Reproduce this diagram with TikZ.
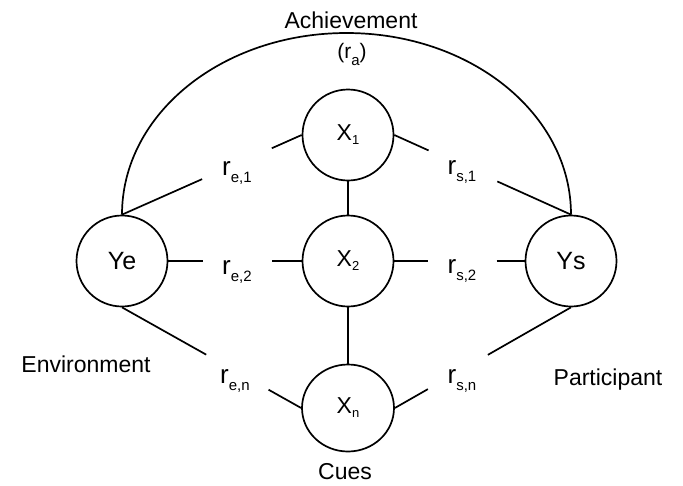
\documentclass[tikz,border=0pt]{standalone}
\usepackage{fontspec}
\setmainfont{Liberation Sans}
\usetikzlibrary{calc,shapes.geometric}
\newcommand{\mysubr}[1]{r\raisebox{-7pt}{\fontsize{15}{16}\selectfont #1}}
\newcommand{\mysubx}[1]{X\raisebox{-4pt}{\fontsize{13}{14}\selectfont #1}}
\begin{document}
\begin{tikzpicture}[x=1pt,y=-1pt,
  cuecirc/.style={circle,draw,line width=1.7pt,minimum size=91pt,inner sep=0pt,font=\fontsize{23}{26}\selectfont},
  judgecirc/.style={circle,draw,line width=1.7pt,minimum size=91pt,inner sep=0pt,font=\fontsize{25}{28}\selectfont},
  txt/.style={inner sep=0pt,anchor=base,font=\fontsize{23}{26}\selectfont},
  rlbl/.style={inner sep=0pt,font=\fontsize{26}{28}\selectfont},
  link/.style={line width=1.7pt}]
\useasboundingbox (0,0) rectangle (683,485);
\fill[white] (0,0) rectangle (683,485);

% circles
\node[judgecirc] (Ye) at (122,261) {Ye};
\node[judgecirc] (Ys) at (571,261) {Ys};
\node[cuecirc] (X1) at (348,135) {\mysubx{1}};
\node[cuecirc] (X2) at (348,261) {\mysubx{2}};
\node[cuecirc,ellipse,minimum width=92pt,minimum height=87pt] (Xn) at (348,408) {\mysubx{n}};

% texts
\node[txt] (ach) at (351,28) {Achievement};
\node[txt,font=\fontsize{21}{24}\selectfont] (ra) at (352,58) {(\mysubr{a})};
\node[txt] (env) at (86,372) {Environment};
\node[txt] (par) at (608,385) {Participant};
\node[txt] (cues) at (345,479) {Cues};

% r labels
\node[rlbl] (re1) at (237,173) {\mysubr{e,1}};
\node[rlbl] (rs1) at (462,172) {\mysubr{s,1}};
\node[rlbl] (re2) at (237,272) {\mysubr{e,2}};
\node[rlbl] (rs2) at (462,271) {\mysubr{s,2}};
\node[rlbl] (ren) at (235,381) {\mysubr{e,n}};
\node[rlbl] (rsn) at (462,381) {\mysubr{s,n}};

% achievement arc
\coordinate (top) at (346.5,33);
\draw[link] (Ye.north) .. controls ($(Ye.north)+(0,-101)$) and ($(top)+(-124,0)$) .. (top)
  .. controls ($(top)+(124,0)$) and ($(Ys.north)+(0,-101)$) .. (Ys.north);

% vertical links
\draw[link] (X1.south) -- (X2.north);
\draw[link] (X2.south) -- (Xn.north);

% gapped links
\draw[link] (Ye.north) -- ($(Ye.north)!0.446!(X1.west)$);
\draw[link] ($(Ye.north)!0.834!(X1.west)$) -- (X1.west);
\draw[link] (X1.east) -- ($(X1.east)!0.194!(Ys.north)$);
\draw[link] ($(X1.east)!0.583!(Ys.north)$) -- (Ys.north);

\draw[link] (Ye.east) -- ($(Ye.east)!0.263!(X2.west)$);
\draw[link] ($(Ye.east)!0.781!(X2.west)$) -- (X2.west);
\draw[link] (X2.east) -- ($(X2.east)!0.261!(Ys.west)$);
\draw[link] ($(X2.east)!0.784!(Ys.west)$) -- (Ys.west);

\draw[link] (Ye.south) -- ($(Ye.south)!0.47!(Xn.west)$);
\draw[link] ($(Ye.south)!0.818!(Xn.west)$) -- (Xn.west);
\draw[link] (Xn.east) -- ($(Xn.east)!0.1875!(Ys.south)$);
\draw[link] ($(Xn.east)!0.528!(Ys.south)$) -- (Ys.south);
\end{tikzpicture}
\end{document}
